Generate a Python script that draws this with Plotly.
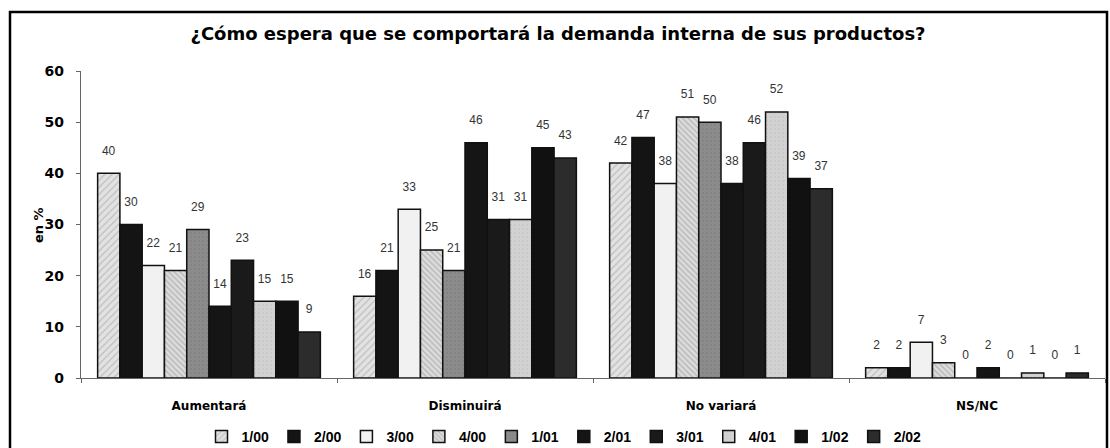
import plotly.graph_objects as go

categories = ["Aumentará", "Disminuirá", "No variará", "NS/NC"]
series_names = ["1/00", "2/00", "3/00", "4/00", "1/01", "2/01", "3/01", "4/01", "1/02", "2/02"]
v_1_00 = [40, 16, 42, 2]
v_2_00 = [30, 21, 47, 2]
v_3_00 = [22, 33, 38, 7]
v_4_00 = [21, 25, 51, 3]
v_1_01 = [29, 21, 50, 0]
v_2_01 = [14, 46, 38, 2]
v_3_01 = [23, 31, 46, 0]
v_4_01 = [15, 31, 52, 1]
v_1_02 = [15, 45, 39, 0]
v_2_02 = [9, 43, 37, 1]
series_values = [v_1_00, v_2_00, v_3_00, v_4_00, v_1_01, v_2_01, v_3_01, v_4_01, v_1_02, v_2_02]
y_ticks = [0, 10, 20, 30, 40, 50, 60]

styles = [
    dict(color="#e2e2e2", pattern=dict(shape="/", fgcolor="#9a9a9a", size=5, solidity=0.25)),
    dict(color="#141414"),
    dict(color="#f1f1f1"),
    dict(color="#dcdcdc", pattern=dict(shape="\\", fgcolor="#8a8a8a", size=4, solidity=0.3)),
    dict(color="#8c8c8c", pattern=dict(shape=".", fgcolor="#777777", size=4, solidity=0.2)),
    dict(color="#151515"),
    dict(color="#1a1a1a"),
    dict(color="#d2d2d2", pattern=dict(shape=".", fgcolor="#bdbdbd", size=4, solidity=0.2)),
    dict(color="#111111"),
    dict(color="#2c2c2c"),
]

fig = go.Figure()
for name, vals, st in zip(series_names, series_values, styles):
    marker = dict(color=st["color"], line=dict(color="#111111", width=1.5))
    if "pattern" in st:
        p = dict(st["pattern"])
        p["bgcolor"] = st["color"]
        marker["pattern"] = p
    fig.add_trace(go.Bar(
        name=name, x=categories, y=vals, marker=marker,
        text=[str(v) for v in vals], textposition="outside",
        texttemplate="%{text}<br><span style='font-size:2px'> </span>",
        textfont=dict(family="Liberation Sans, Arial", size=12, color="#333333"),
        cliponaxis=False,
    ))

L, R, T, B = 81, 5, 71, 70
W, H = 1110, 448
pw = W - L - R
ph = H - T - B

BOLD = "DejaVu Sans"

fig.update_layout(
    width=W, height=H,
    margin=dict(l=L, r=R, t=T, b=B, autoexpand=False),
    barmode="group", bargap=0.13, bargroupgap=0,
    plot_bgcolor="white", paper_bgcolor="white",
    font=dict(family="Liberation Sans, Arial", color="#000000"),
    title=dict(text="<b>¿Cómo espera que se comportará la demanda interna de sus productos?</b>",
               x=558 / W, xanchor="center", xref="container",
               y=1 - 34 / H, yanchor="middle", yref="container",
               font=dict(size=18, family=BOLD, color="#000000")),
    showlegend=True,
    legend=dict(orientation="h", x=(564 - L) / pw, xanchor="center", y=-(437 - 378) / ph, yanchor="middle",
                font=dict(size=14, family="Liberation Sans, Arial", weight="bold", color="#000000"),
                itemwidth=30, tracegroupgap=0, traceorder="normal",
                bgcolor="rgba(0,0,0,0)"),
    xaxis=dict(type="category", showline=True, linecolor="#666666", linewidth=1.2,
               ticks="outside", ticklen=4, tickcolor="#666666", tickson="boundaries",
               tickfont=dict(size=12, family=BOLD, color="#000000"),
               ticklabelstandoff=16, showgrid=False, zeroline=False),
    yaxis=dict(range=[0, 60], tickvals=y_ticks, ticktext=[f"<b>{t}</b>" for t in y_ticks],
               showline=True, linecolor="#666666", linewidth=1.2,
               ticks="outside", ticklen=4, tickcolor="#666666",
               tickfont=dict(size=14, family=BOLD, color="#000000"),
               ticklabelstandoff=9, showgrid=False, zeroline=False),
)
fig.update_xaxes(ticktext=[f"<b>{c}</b>" for c in categories], tickvals=categories)

fig.add_annotation(text="<b>en %</b>", textangle=-90, xref="paper", yref="paper",
                   x=(38 - L) / pw, y=(378 - 225) / ph, xanchor="center", yanchor="middle",
                   showarrow=False,
                   font=dict(size=13, family=BOLD, color="#000000"))

fig.add_shape(type="rect", xref="paper", yref="paper",
              x0=(10 - L) / pw, x1=(1107 - L) / pw,
              y0=(378 - 470) / ph, y1=(378 - 12) / ph,
              line=dict(color="#000000", width=2.5), fillcolor="rgba(0,0,0,0)", layer="above")

fig.write_html("out.html", config={"displayModeBar": False},
               post_script="document.body.style.margin='0';document.body.style.overflow='hidden';")
